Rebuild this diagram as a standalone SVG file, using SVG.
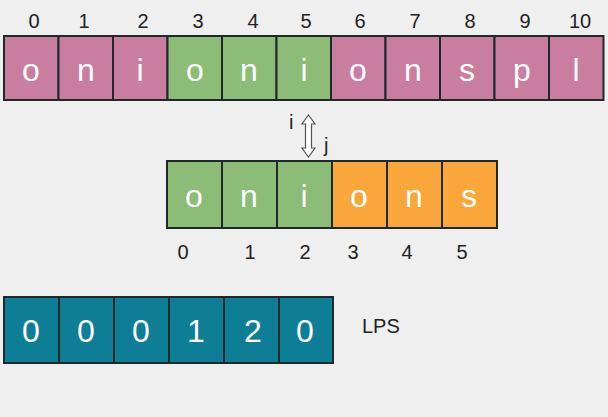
<svg xmlns="http://www.w3.org/2000/svg" width="608" height="417" viewBox="0 0 608 417">
<style>
.bg{fill:#efefef}
.cell{stroke:#1e2a2a;stroke-width:2}
.pink{fill:#c97d9f}
.green{fill:#8dbb78}
.orange{fill:#f9a63a}
.teal{fill:#0e7e96}
.ch{font-family:"Liberation Sans",Arial,sans-serif;font-size:32px;fill:#ffffff;text-anchor:middle}
.idx{font-family:"Liberation Sans",Arial,sans-serif;font-size:20px;fill:#222;text-anchor:middle}
.lbl{font-family:"Liberation Sans",Arial,sans-serif;font-size:20px;fill:#222}
</style>
<rect class="bg" x="0" y="0" width="608" height="417"/>
<g id="top-indices">
<text class="idx" x="34" y="28">0</text>
<text class="idx" x="84" y="28">1</text>
<text class="idx" x="143" y="28">2</text>
<text class="idx" x="198" y="28">3</text>
<text class="idx" x="253" y="28">4</text>
<text class="idx" x="306" y="28">5</text>
<text class="idx" x="360" y="28">6</text>
<text class="idx" x="415" y="28">7</text>
<text class="idx" x="470" y="28">8</text>
<text class="idx" x="525" y="28">9</text>
<text class="idx" x="580" y="28">10</text>
</g>
<g id="text-array">
<rect class="cell pink" x="4" y="36" width="54.5" height="64"/>
<rect class="cell pink" x="58.5" y="36" width="54.5" height="64"/>
<rect class="cell pink" x="113" y="36" width="54.5" height="64"/>
<rect class="cell green" x="167.5" y="36" width="54.5" height="64"/>
<rect class="cell green" x="222" y="36" width="54.5" height="64"/>
<rect class="cell green" x="276.5" y="36" width="54.5" height="64"/>
<rect class="cell pink" x="331" y="36" width="54.5" height="64"/>
<rect class="cell pink" x="385.5" y="36" width="54.5" height="64"/>
<rect class="cell pink" x="440" y="36" width="54.5" height="64"/>
<rect class="cell pink" x="494.5" y="36" width="54.5" height="64"/>
<rect class="cell pink" x="549" y="36" width="54.5" height="64"/>
<text class="ch" x="31" y="81">o</text>
<text class="ch" x="86" y="81">n</text>
<text class="ch" x="140" y="81">i</text>
<text class="ch" x="195" y="81">o</text>
<text class="ch" x="249" y="81">n</text>
<text class="ch" x="304" y="81">i</text>
<text class="ch" x="358" y="81">o</text>
<text class="ch" x="413" y="81">n</text>
<text class="ch" x="467" y="81">s</text>
<text class="ch" x="522" y="81">p</text>
<text class="ch" x="576" y="81">l</text>
</g>
<g id="connectors">
<path d="M308.5,115 L315,124 L311.5,124 L311.5,148 L315,148 L308.5,157 L302,148 L305.5,148 L305.5,124 L302,124 Z" fill="#ffffff" stroke="#555" stroke-width="1.2"/>
<text class="lbl" x="289" y="129">i</text>
<text class="lbl" x="324" y="152">j</text>
</g>
<g id="pattern-array">
<rect class="cell green" x="167" y="161" width="55" height="67"/>
<rect class="cell green" x="222" y="161" width="55" height="67"/>
<rect class="cell green" x="277" y="161" width="55" height="67"/>
<rect class="cell orange" x="332" y="161" width="55" height="67"/>
<rect class="cell orange" x="387" y="161" width="55" height="67"/>
<rect class="cell orange" x="442" y="161" width="55" height="67"/>
<text class="ch" x="194" y="207">o</text>
<text class="ch" x="249" y="207">n</text>
<text class="ch" x="304" y="207">i</text>
<text class="ch" x="359" y="207">o</text>
<text class="ch" x="414" y="207">n</text>
<text class="ch" x="469" y="207">s</text>
</g>
<g id="pattern-indices">
<text class="idx" x="183" y="259">0</text>
<text class="idx" x="250" y="259">1</text>
<text class="idx" x="305" y="259">2</text>
<text class="idx" x="353" y="259">3</text>
<text class="idx" x="407" y="259">4</text>
<text class="idx" x="462" y="259">5</text>
</g>
<g id="lps-array">
<rect class="cell teal" x="4" y="297" width="55" height="66"/>
<rect class="cell teal" x="59" y="297" width="55" height="66"/>
<rect class="cell teal" x="114" y="297" width="55" height="66"/>
<rect class="cell teal" x="169" y="297" width="55" height="66"/>
<rect class="cell teal" x="224" y="297" width="55" height="66"/>
<rect class="cell teal" x="279" y="297" width="54" height="66"/>
<text class="ch" x="31" y="342">0</text>
<text class="ch" x="86" y="342">0</text>
<text class="ch" x="141" y="342">0</text>
<text class="ch" x="196" y="342">1</text>
<text class="ch" x="253" y="342">2</text>
<text class="ch" x="305" y="342">0</text>
</g>
<g id="lps-label">
<text class="lbl" x="362" y="333" font-size="25">LPS</text>
</g>
</svg>
